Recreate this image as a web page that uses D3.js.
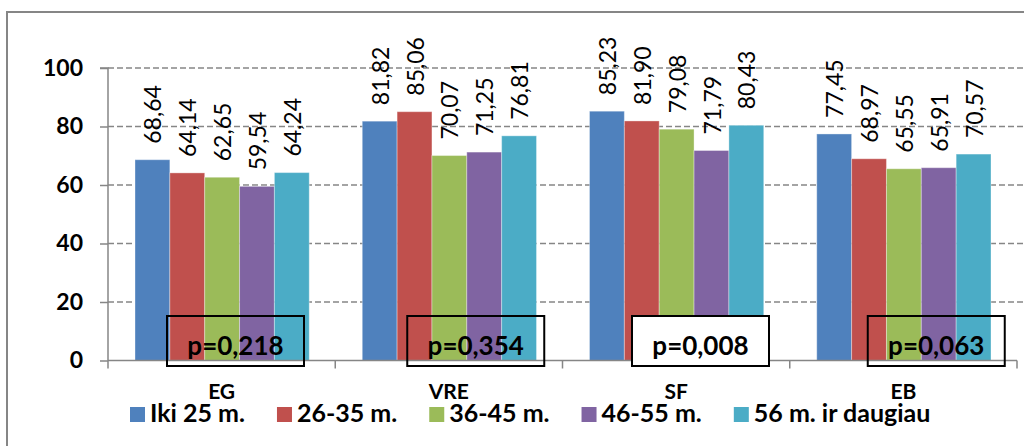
<!DOCTYPE html>
<html><head><meta charset="utf-8">
<script src="https://cdn.jsdelivr.net/npm/d3@7"></script>
<style>
html,body{margin:0;padding:0;background:#fff;}
svg{display:block;font-family:Lato,"Open Sans",sans-serif;}
</style></head>
<body>
<svg id="chart" width="1024" height="446"></svg>
<script>
const categories = ["EG", "VRE", "SF", "EB"];
const seriesNames = ["Iki 25 m.", "26-35 m.", "36-45 m.", "46-55 m.", "56 m. ir daugiau"];
const seriesValues = [
  [68.64, 81.82, 85.23, 77.45],
  [64.14, 85.06, 81.90, 68.97],
  [62.65, 70.07, 79.08, 65.55],
  [59.54, 71.25, 71.79, 65.91],
  [64.24, 76.81, 80.43, 70.57]
];
const pLabels = ["p=0,218", "p=0,354", "p=0,008", "p=0,063"];
const yTickValues = [0, 20, 40, 60, 80, 100];

// layout / style (not data)
const colors = ["#4F81BD", "#C0504D", "#9BBB59", "#8064A2", "#4BACC6"];
const boxOffsets = [59, 72, 69.5, 78];
const boxFilled = [false, false, true, false];

const svg = d3.select("#chart");
const plotL = 108, plotR = 1017, plotT = 68, plotB = 360.5;

// outer border
svg.append("rect").attr("x", 7).attr("y", 12).attr("width", 1040).attr("height", 460)
  .attr("fill", "none").attr("stroke", "#868686").attr("stroke-width", 2);

const x0 = d3.scaleBand().domain(categories).range([plotL, plotR]).padding(0);
const x1 = d3.scaleBand().domain(d3.range(seriesNames.length))
  .range([27, x0.bandwidth() - 26]).padding(0);
const y = d3.scaleLinear().domain([0, 100]).range([plotB, plotT]);

// gridlines
svg.append("g").selectAll("line").data(yTickValues.filter(d => d > 0)).join("line")
  .attr("x1", plotL).attr("x2", 1024)
  .attr("y1", d => y(d)).attr("y2", d => y(d))
  .attr("stroke", "#868686").attr("stroke-width", 1.3).attr("stroke-dasharray", "6,3");

// bars
const rows = [];
seriesValues.forEach((vals, s) => vals.forEach((v, c) => rows.push({s, c, v})));
svg.append("g").selectAll("rect").data(rows).join("rect")
  .attr("x", d => x0(categories[d.c]) + x1(d.s))
  .attr("width", x1.bandwidth())
  .attr("y", d => y(d.v))
  .attr("height", d => y(0) - y(d.v))
  .attr("fill", d => colors[d.s])
  .attr("stroke", "rgba(255,255,255,0.35)").attr("stroke-width", 1);

// value labels
const fmt = v => d3.format(".2f")(v).replace(".", ",");
svg.append("g").selectAll("text").data(rows).join("text")
  .attr("transform", d => `translate(${x0(categories[d.c]) + x1(d.s) + x1.bandwidth() / 2 + 1},${y(d.v) - 16}) rotate(-90)`)
  .attr("dy", "0.35em")
  .attr("font-size", 23).attr("fill", "#000")
  .text(d => fmt(d.v));

// y axis
const yAxis = d3.axisLeft(y).tickValues(yTickValues).tickSize(8).tickPadding(17);
const gy = svg.append("g").attr("transform", `translate(${plotL},0)`).call(yAxis);
gy.select(".domain").attr("stroke", "#868686").attr("stroke-width", 1.5).attr("d", `M-8,${plotT}H0V${plotB}`);
gy.selectAll(".tick line").attr("stroke", "#868686").attr("stroke-width", 1.5);
gy.selectAll(".tick text").attr("font-size", 23).attr("font-weight", "bold").attr("fill", "#000")
  .attr("font-family", "Lato");

// x axis
const gx = svg.append("g");
gx.append("line").attr("x1", plotL).attr("x2", plotR).attr("y1", plotB).attr("y2", plotB)
  .attr("stroke", "#868686").attr("stroke-width", 1.5);
const boundaries = categories.map(c => x0(c)).concat([plotR]);
gx.selectAll("line.tk").data(boundaries).join("line").attr("class", "tk")
  .attr("x1", d => d).attr("x2", d => d).attr("y1", plotB).attr("y2", plotB + 8)
  .attr("stroke", "#868686").attr("stroke-width", 1.5);
gx.selectAll("text").data(categories).join("text")
  .attr("x", d => x0(d) + x0.bandwidth() / 2).attr("y", 399)
  .attr("text-anchor", "middle").attr("font-size", 21).attr("font-weight", "bold")
  .text(d => d);

// p-value boxes
const pg = svg.append("g").selectAll("g").data(pLabels).join("g")
  .attr("transform", (d, i) => `translate(${x0(categories[i]) + boxOffsets[i]},316)`);
pg.append("rect").attr("width", 137).attr("height", 50)
  .attr("fill", (d, i) => boxFilled[i] ? "#fff" : "none")
  .attr("stroke", "#000").attr("stroke-width", 2);
pg.append("text").attr("x", 68.5).attr("y", 39).attr("text-anchor", "middle")
  .attr("font-size", 26).attr("font-weight", "bold").text(d => d);

// legend
const lg = svg.append("g");
let lx = 130;
seriesNames.forEach((name, i) => {
  lg.append("rect").attr("x", lx).attr("y", 407).attr("width", 15).attr("height", 15).attr("fill", colors[i]);
  const t = lg.append("text").attr("x", lx + 20).attr("y", 422)
    .attr("font-size", 25).attr("font-weight", "bold").text(name);
  lx += 20 + t.node().getComputedTextLength() + 32;
});
</script>
</body></html>
